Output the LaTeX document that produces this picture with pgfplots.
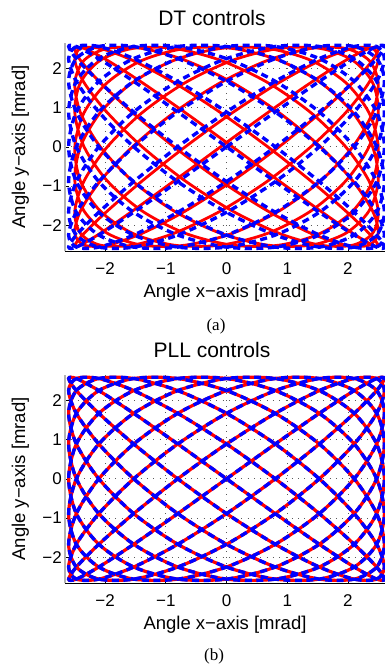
\documentclass[border=0pt]{standalone}
\usepackage{fontspec}
\setmainfont{Liberation Sans}
\newfontfamily\seriffont{Liberation Serif}
\usepackage{pgfplots}
\usepackage{pgfplotstable}
\pgfplotsset{compat=1.18}

% Lissajous scan: x, y = reference (blue); xr, yr = DT-controlled measurement (red)
\pgfplotstableread{
x y xr yr
0 0 -0.098 0
0.803 0.889 0.679 0.872
1.528 1.671 1.389 1.639
2.103 2.252 1.963 2.208
2.473 2.561 2.346 2.511
2.6 2.561 2.498 2.511
2.473 2.252 2.406 2.208
2.103 1.671 2.079 1.639
1.528 0.889 1.548 0.872
0.803 0 0.865 0
0 -0.889 0.098 -0.872
-0.803 -1.671 -0.679 -1.639
-1.528 -2.252 -1.389 -2.208
-2.103 -2.561 -1.963 -2.511
-2.473 -2.561 -2.346 -2.511
-2.6 -2.252 -2.498 -2.208
-2.473 -1.671 -2.406 -1.639
-2.103 -0.889 -2.079 -0.872
-1.528 0 -1.548 0
-0.803 0.889 -0.865 0.872
0 1.671 -0.098 1.639
0.803 2.252 0.679 2.208
1.528 2.561 1.389 2.511
2.103 2.561 1.963 2.511
2.473 2.252 2.346 2.208
2.6 1.671 2.498 1.639
2.473 0.889 2.406 0.872
2.103 0 2.079 0
1.528 -0.889 1.548 -0.872
0.803 -1.671 0.865 -1.639
0 -2.252 0.098 -2.208
-0.803 -2.561 -0.679 -2.511
-1.528 -2.561 -1.389 -2.511
-2.103 -2.252 -1.963 -2.208
-2.473 -1.671 -2.346 -1.639
-2.6 -0.889 -2.498 -0.872
-2.473 0 -2.406 0
-2.103 0.889 -2.079 0.872
-1.528 1.671 -1.548 1.639
-0.803 2.252 -0.865 2.208
0 2.561 -0.098 2.511
0.803 2.561 0.679 2.511
1.528 2.252 1.389 2.208
2.103 1.671 1.963 1.639
2.473 0.889 2.346 0.872
2.6 0 2.498 0
2.473 -0.889 2.406 -0.872
2.103 -1.671 2.079 -1.639
1.528 -2.252 1.548 -2.208
0.803 -2.561 0.865 -2.511
0 -2.561 0.098 -2.511
-0.803 -2.252 -0.679 -2.208
-1.528 -1.671 -1.389 -1.639
-2.103 -0.889 -1.963 -0.872
-2.473 0 -2.346 0
-2.6 0.889 -2.498 0.872
-2.473 1.671 -2.406 1.639
-2.103 2.252 -2.079 2.208
-1.528 2.561 -1.548 2.511
-0.803 2.561 -0.865 2.511
0 2.252 -0.098 2.208
0.803 1.671 0.679 1.639
1.528 0.889 1.389 0.872
2.103 0 1.963 0
2.473 -0.889 2.346 -0.872
2.6 -1.671 2.498 -1.639
2.473 -2.252 2.406 -2.208
2.103 -2.561 2.079 -2.511
1.528 -2.561 1.548 -2.511
0.803 -2.252 0.865 -2.208
0 -1.671 0.098 -1.639
-0.803 -0.889 -0.679 -0.872
-1.528 0 -1.389 0
-2.103 0.889 -1.963 0.872
-2.473 1.671 -2.346 1.639
-2.6 2.252 -2.498 2.208
-2.473 2.561 -2.406 2.511
-2.103 2.561 -2.079 2.511
-1.528 2.252 -1.548 2.208
-0.803 1.671 -0.865 1.639
0 0.889 -0.098 0.872
0.803 0 0.679 0
1.528 -0.889 1.389 -0.872
2.103 -1.671 1.963 -1.639
2.473 -2.252 2.346 -2.208
2.6 -2.561 2.498 -2.511
2.473 -2.561 2.406 -2.511
2.103 -2.252 2.079 -2.208
1.528 -1.671 1.548 -1.639
0.803 -0.889 0.865 -0.872
0 0 0.098 0
-0.803 0.889 -0.679 0.872
-1.528 1.671 -1.389 1.639
-2.103 2.252 -1.963 2.208
-2.473 2.561 -2.346 2.511
-2.6 2.561 -2.498 2.511
-2.473 2.252 -2.406 2.208
-2.103 1.671 -2.079 1.639
-1.528 0.889 -1.548 0.872
-0.803 0 -0.865 0
0 -0.889 -0.098 -0.872
0.803 -1.671 0.679 -1.639
1.528 -2.252 1.389 -2.208
2.103 -2.561 1.963 -2.511
2.473 -2.561 2.346 -2.511
2.6 -2.252 2.498 -2.208
2.473 -1.671 2.406 -1.639
2.103 -0.889 2.079 -0.872
1.528 0 1.548 0
0.803 0.889 0.865 0.872
0 1.671 0.098 1.639
-0.803 2.252 -0.679 2.208
-1.528 2.561 -1.389 2.511
-2.103 2.561 -1.963 2.511
-2.473 2.252 -2.346 2.208
-2.6 1.671 -2.498 1.639
-2.473 0.889 -2.406 0.872
-2.103 0 -2.079 0
-1.528 -0.889 -1.548 -0.872
-0.803 -1.671 -0.865 -1.639
0 -2.252 -0.098 -2.208
0.803 -2.561 0.679 -2.511
1.528 -2.561 1.389 -2.511
2.103 -2.252 1.963 -2.208
2.473 -1.671 2.346 -1.639
2.6 -0.889 2.498 -0.872
2.473 0 2.406 0
2.103 0.889 2.079 0.872
1.528 1.671 1.548 1.639
0.803 2.252 0.865 2.208
0 2.561 0.098 2.511
-0.803 2.561 -0.679 2.511
-1.528 2.252 -1.389 2.208
-2.103 1.671 -1.963 1.639
-2.473 0.889 -2.346 0.872
-2.6 0 -2.498 0
-2.473 -0.889 -2.406 -0.872
-2.103 -1.671 -2.079 -1.639
-1.528 -2.252 -1.548 -2.208
-0.803 -2.561 -0.865 -2.511
0 -2.561 -0.098 -2.511
0.803 -2.252 0.679 -2.208
1.528 -1.671 1.389 -1.639
2.103 -0.889 1.963 -0.872
2.473 0 2.346 0
2.6 0.889 2.498 0.872
2.473 1.671 2.406 1.639
2.103 2.252 2.079 2.208
1.528 2.561 1.548 2.511
0.803 2.561 0.865 2.511
0 2.252 0.098 2.208
-0.803 1.671 -0.679 1.639
-1.528 0.889 -1.389 0.872
-2.103 0 -1.963 0
-2.473 -0.889 -2.346 -0.872
-2.6 -1.671 -2.498 -1.639
-2.473 -2.252 -2.406 -2.208
-2.103 -2.561 -2.079 -2.511
-1.528 -2.561 -1.548 -2.511
-0.803 -2.252 -0.865 -2.208
0 -1.671 -0.098 -1.639
0.803 -0.889 0.679 -0.872
1.528 0 1.389 0
2.103 0.889 1.963 0.872
2.473 1.671 2.346 1.639
2.6 2.252 2.498 2.208
2.473 2.561 2.406 2.511
2.103 2.561 2.079 2.511
1.528 2.252 1.548 2.208
0.803 1.671 0.865 1.639
0 0.889 0.098 0.872
-0.803 0 -0.679 0
-1.528 -0.889 -1.389 -0.872
-2.103 -1.671 -1.963 -1.639
-2.473 -2.252 -2.346 -2.208
-2.6 -2.561 -2.498 -2.511
-2.473 -2.561 -2.406 -2.511
-2.103 -2.252 -2.079 -2.208
-1.528 -1.671 -1.548 -1.639
-0.803 -0.889 -0.865 -0.872
0 0 -0.098 0
}\scan

\definecolor{mred}{rgb}{1,0,0}
\definecolor{mblue}{rgb}{0,0,1}

\pgfplotsset{
  scanaxis/.style={
    scale only axis, width=320pt, height=208pt,
    xmin=-2.66, xmax=2.61, ymin=-2.66, ymax=2.65,
    axis x line*=bottom, axis y line*=left,
    x axis line style={black, line width=0.8pt},
    y axis line style={gray!60, line width=2pt},
    xtick={-2,-1,0,1,2}, ytick={-2,-1,0,1,2},
    xticklabels={−2,−1,0,1,2}, yticklabels={−2,−1,0,1,2},
    tick align=inside, major tick length=4pt,
    tick style={black, line width=0.6pt},
    grid=major,
    major grid style={gray!70!black, line width=0.8pt, dash pattern=on 0.8pt off 5.5pt},
    ticklabel style={font=\fontsize{17}{20}\selectfont},
    xticklabel style={anchor=base, yshift=-23pt},
    yticklabel style={anchor=east, inner xsep=0pt, xshift=-3pt},
    xlabel={Angle x−axis [mrad]},
    ylabel={Angle y−axis [mrad]},
    label style={font=\fontsize{18.5}{21}\selectfont},
    xlabel style={at={(axis description cs:0.5,0)}, anchor=base, yshift=-46pt},
    ylabel style={at={(axis description cs:-0.125,0.5)}, anchor=base},
    title style={font=\fontsize{21}{24}\selectfont, at={(axis description cs:0.5,1)}, anchor=base, yshift=11.3pt, xshift=-13pt},
  },
  redline/.style={draw=mred, line width=2.8pt, smooth, mark=none},
  blueline/.style={draw=mblue, line width=3.4pt, dash pattern=on 7pt off 4.5pt, smooth, mark=none},
}

\begin{document}
\begin{tikzpicture}
\useasboundingbox (0,0) rectangle (385pt,-664pt);
\begin{axis}[scanaxis, at={(65pt,-251pt)}, anchor=south west, title={DT controls}]
  \addplot[redline] table[x=xr, y=yr] {\scan};
  \addplot[blueline] table[x=x, y=y] {\scan};
\end{axis}
\node[font=\seriffont\fontsize{17}{20}\selectfont, anchor=base] at (216pt,-330pt) {(a)};
\begin{axis}[scanaxis, at={(65pt,-583pt)}, anchor=south west, title={PLL controls}]
  \addplot[redline, line width=3.2pt] table[x=x, y=y] {\scan};
  \addplot[blueline] table[x=x, y=y] {\scan};
\end{axis}
\node[font=\seriffont\fontsize{17}{20}\selectfont, anchor=base] at (214pt,-660pt) {(b)};
\end{tikzpicture}
\end{document}
